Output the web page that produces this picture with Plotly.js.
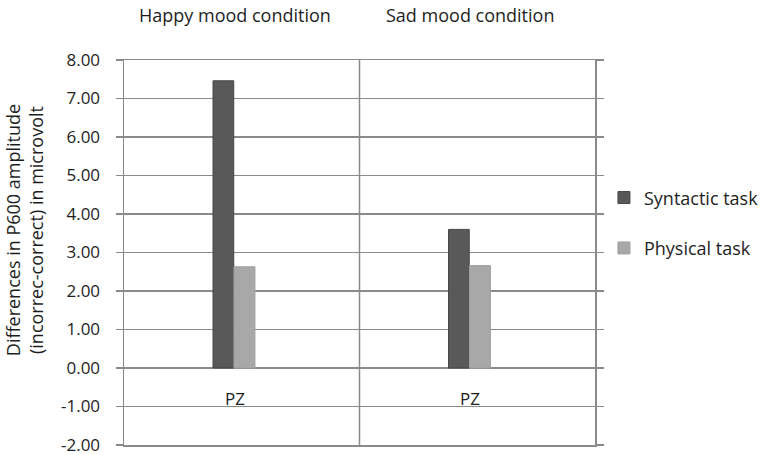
<!DOCTYPE html>
<html>
<head>
<meta charset="utf-8">
<script src="https://cdn.plot.ly/plotly-3.0.1.min.js"></script>
<style>html,body{margin:0;padding:0;background:#fff;}#chart{width:762px;height:455px;}</style>
</head>
<body>
<div id="chart"></div>
<script>
const conditions = ["Happy mood condition", "Sad mood condition"];
const electrodeLabels = ["PZ", "PZ"];
const seriesNames = ["Syntactic task", "Physical task"];
const syntacticValues = [7.46, 3.60];
const physicalValues = [2.63, 2.66];
const yTickVals = [-2, -1, 0, 1, 2, 3, 4, 5, 6, 7, 8];
const yTickText = ["-2.00", "-1.00", "0.00", "1.00", "2.00", "3.00", "4.00", "5.00", "6.00", "7.00", "8.00"];
const yAxisTitleLines = ["Differences in P600 amplitude", "(incorrec-correct) in microvolt"];

const FONT = "Open Sans, Noto Sans, sans-serif";
const GRID = "#8a8a8a";
const TXT = "#1e1e1e";

const traces = [
  {
    type: "bar", name: seriesNames[0], x: conditions, y: syntacticValues,
    offset: -0.122, width: 0.088,
    marker: {color: "#595959", line: {color: "#474747", width: 1}},
    legendgroup: "a", hoverinfo: "skip"
  },
  {
    type: "bar", name: seriesNames[1], x: conditions, y: physicalValues,
    offset: -0.033, width: 0.089,
    marker: {color: "#a8a8a8", line: {color: "#a0a0a0", width: 1}},
    legendgroup: "b", hoverinfo: "skip"
  }
];

const annotations = [];
conditions.forEach((c, i) => {
  annotations.push({
    x: c, xref: "x", y: 1.117, yref: "paper", text: c, showarrow: false,
    xshift: -7, yanchor: "middle", font: {family: FONT, size: 18, color: TXT}
  });
  annotations.push({
    x: c, xref: "x", y: 0, yref: "y", text: electrodeLabels[i], showarrow: false,
    xshift: -7, yanchor: "middle", yshift: -30, font: {family: FONT, size: 17, color: TXT}
  });
});
annotations.push({
  x: -0.2123, xref: "paper", y: 0.558, yref: "paper", textangle: -90,
  text: yAxisTitleLines.join("<br>"), showarrow: false,
  xanchor: "center", yanchor: "middle",
  font: {family: FONT, size: 18, color: TXT}
});

const layout = {
  width: 762, height: 455,
  margin: {l: 124, r: 167, t: 60, b: 10, autoexpand: false},
  paper_bgcolor: "#fff", plot_bgcolor: "#fff",
  font: {family: FONT, size: 17, color: TXT},
  showlegend: true,
  legend: {
    x: 1.019, xanchor: "left", y: 0.69, yanchor: "top",
    font: {family: FONT, size: 18, color: TXT},
    tracegroupgap: 24, traceorder: "grouped", bgcolor: "rgba(0,0,0,0)"
  },
  xaxis: {
    type: "category", range: [-0.5, 1.5], showticklabels: false,
    ticks: "", showgrid: false, zeroline: false,
    showline: true, linecolor: GRID, linewidth: 1.5, mirror: true, fixedrange: true
  },
  yaxis: {
    range: [-2, 8], tickvals: yTickVals, ticktext: yTickText,
    showgrid: true, gridcolor: GRID, gridwidth: 1.5,
    zeroline: true, zerolinecolor: GRID, zerolinewidth: 1.5,
    showline: true, linecolor: GRID, linewidth: 1.5, mirror: "ticks",
    ticks: "outside", ticklen: 7, tickcolor: GRID, tickwidth: 1.5,
    ticklabelstandoff: 12, ticklabeloverflow: "allow",
    tickfont: {family: FONT, size: 17, color: TXT}, fixedrange: true
  },
  shapes: [
    {type: "line", xref: "paper", yref: "paper", x0: 0.5, x1: 0.5, y0: 0, y1: 1,
     line: {color: GRID, width: 1.5}}
  ],
  annotations: annotations,
  bargap: 0
};

Plotly.newPlot("chart", traces, layout, {displayModeBar: false, staticPlot: true});
</script>
</body>
</html>
